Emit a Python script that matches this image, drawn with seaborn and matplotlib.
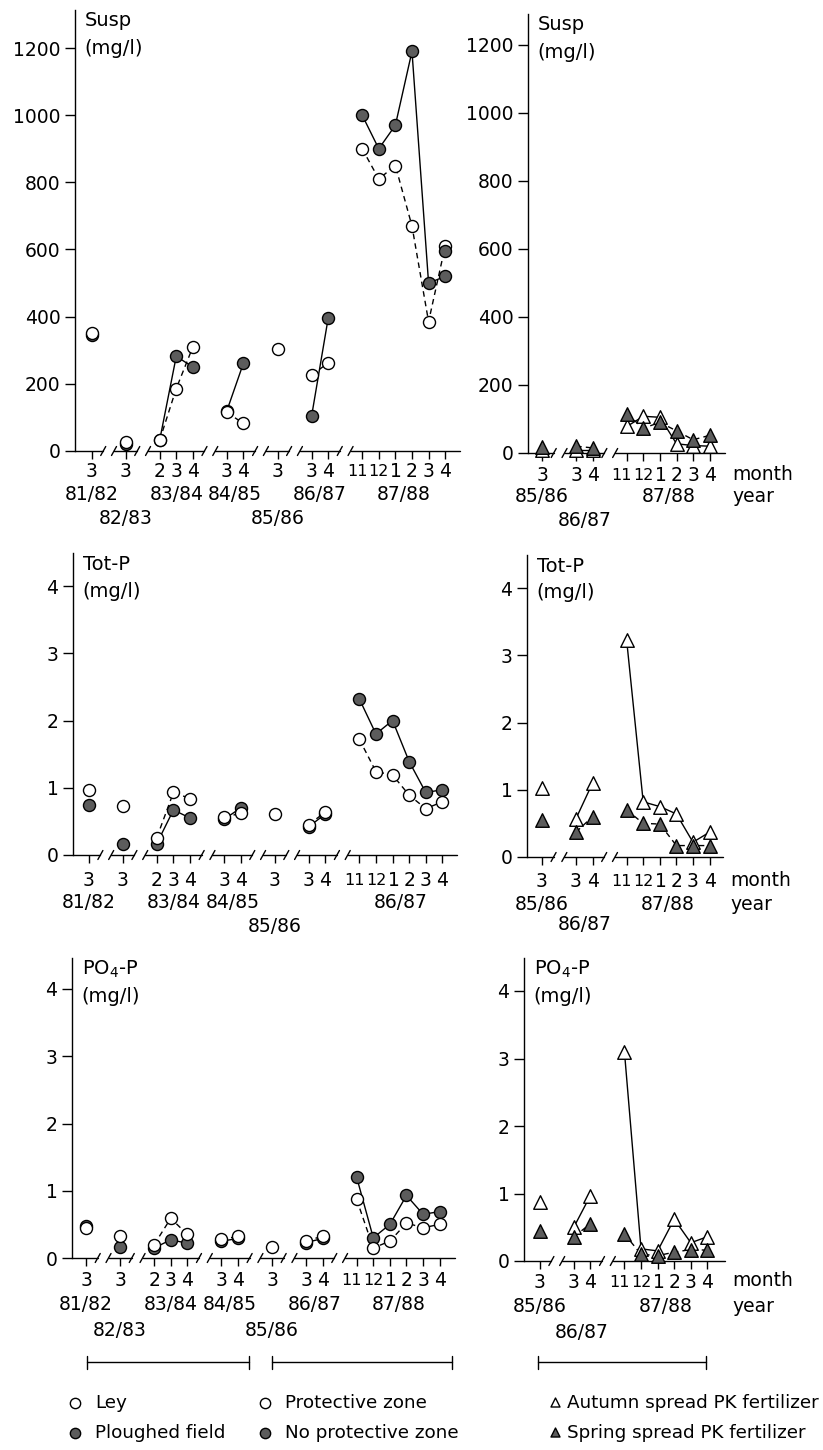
import numpy as np
import matplotlib
matplotlib.use("Agg")
import matplotlib.pyplot as plt
import seaborn as sns

sns.set_style("ticks")
plt.rcParams['font.family'] = ['DejaVu Sans']
plt.rcParams['mathtext.default'] = 'regular'
for key in ["text.color", "axes.labelcolor", "xtick.color", "ytick.color", "axes.edgecolor"]:
    plt.rcParams[key] = "black"

# ---------------------------------------------------------------- data
# left column: ley / ploughed field (81/82-84/85), protective zone (85/86-87/88)
left_years = ["81/82", "82/83", "83/84", "84/85", "85/86", "86/87", "87/88"]
left_months = [[3], [3], [2, 3, 4], [3, 4], [3], [3, 4], [11, 12, 1, 2, 3, 4]]
# the Tot-P panel in the source prints different year labels
totp_left_years = ["81/82", None, "83/84", "84/85", "85/86", None, "86/87"]
left_year_rows = [0, 1, 0, 0, 1, 0, 0]

susp_open = [352, 28, 32, 186, 310, 115, 82, 305, 226, 262, 900, 810, 850, 670, 385, 610]
susp_filled = [345, 22, 32, 282, 250, 120, 262, np.nan, 103, 395, 1000, 900, 970, 1190, 500, 520]
susp_filled_extra_idx = [15]
susp_filled_extra = [595]

totp_open = [0.97, 0.73, 0.26, 0.93, 0.84, 0.56, 0.62, 0.61, 0.45, 0.64, 1.72, 1.24, 1.19, 0.89, 0.69, 0.79]
totp_filled = [0.75, 0.17, 0.17, 0.67, 0.55, 0.53, 0.70, np.nan, 0.42, 0.61, 2.32, 1.80, 2.00, 1.39, 0.93, 0.97]

po4_open = [0.44, 0.33, 0.20, 0.59, 0.35, 0.28, 0.32, 0.16, 0.26, 0.32, 0.87, 0.15, 0.25, 0.52, 0.45, 0.50]
po4_filled = [0.47, 0.16, 0.15, 0.27, 0.22, 0.25, 0.29, np.nan, 0.23, 0.29, 1.20, 0.30, 0.50, 0.93, 0.65, 0.69]

# right column: autumn / spring spread PK fertilizer
right_years = ["85/86", "86/87", "87/88"]
right_months = [[3], [3, 4], [11, 12, 1, 2, 3, 4]]
right_year_rows = [0, 1, 0]

susp_autumn = [10, 10, 10, 78, 108, 105, 27, 22, 20]
susp_spring = [18, 20, 15, 115, 73, 90, 65, 39, 52]

totp_autumn = [1.02, 0.57, 1.10, 3.23, 0.82, 0.75, 0.64, 0.22, 0.37]
totp_spring = [0.55, 0.37, 0.60, 0.70, 0.50, 0.49, 0.17, 0.17, 0.17]

po4_autumn = [0.87, 0.50, 0.97, 3.10, 0.18, 0.15, 0.62, 0.27, 0.36]
po4_spring = [0.45, 0.36, 0.55, 0.40, 0.10, 0.08, 0.13, 0.17, 0.16]

susp_ticks = [0, 200, 400, 600, 800, 1000, 1200]
p_ticks = [0, 1, 2, 3, 4]

legend_labels = ["Ley", "Ploughed field", "Protective zone", "No protective zone",
                 "Autumn spread PK fertilizer", "Spring spread PK fertilizer"]

# ---------------------------------------------------------------- layout
W, H, DPI = 823, 1450, 100
PT = 72 / DPI            # points per pixel
UNIT_PX = 16.6           # pixels per month slot
GROUP_GAP = 2.05         # slots between neighbouring seasons
HALF_SEG = 0.7
GREY = "#5c5c5c"
FS = 13.5
TWO_FS = 11.5            # "11" and "12" only get one slot each
MONTH_SHIFT = {11: -5, 1: 1}   # px nudges so the packed labels don't collide
DIGIT_H = 0.729          # DejaVu digit height / em

# left px, right px, zero px, top px, ref tick value, ref tick px, x start, month pad, year rows
panels = {
    "TL": dict(l=75, r=460, z=451, t=10, rv=1200, rp=48, x0=1.0, mp=19, yr=(44, 67)),
    "TR": dict(l=528, r=725, z=453, t=14, rv=1200, rp=45, x0=0.85, mp=21, yr=(44, 67)),
    "ML": dict(l=73, r=457, z=855, t=553, rv=4, rp=586, x0=0.95, mp=24, yr=(48, 72)),
    "MR": dict(l=527, r=723, z=857, t=555, rv=4, rp=588, x0=0.9, mp=23, yr=(48, 68)),
    "BL": dict(l=72, r=455, z=1258, t=958, rv=4, rp=989, x0=0.85, mp=21, yr=(47, 72)),
    "BR": dict(l=524, r=725, z=1261, t=958, rv=4, rp=991, x0=0.95, mp=20, yr=(46, 71)),
}


def group_positions(months):
    out, x = [], 0.0
    for gi, ms in enumerate(months):
        if gi > 0:
            x += GROUP_GAP - 1
        grp = []
        for _ in ms:
            grp.append(x)
            x += 1
        out.append(grp)
    return out


def set_limits(ax, spec):
    ax.set_ylim(0, spec["rv"] * (spec["z"] - spec["t"]) / (spec["z"] - spec["rp"]))
    ax.set_xlim(-spec["x0"], (spec["r"] - spec["l"]) / UNIT_PX - spec["x0"])


def make_axes(fig, spec):
    ax = fig.add_axes([spec["l"] / W, (H - spec["z"]) / H,
                       (spec["r"] - spec["l"]) / W, (spec["z"] - spec["t"]) / H])
    ax.patch.set_alpha(0)
    sns.despine(ax=ax, bottom=True)
    ax.spines["left"].set_color("black")
    ax.spines["left"].set_linewidth(1)
    return ax


def draw_series(ax, gpos, vals, marker, face, ls, area, z):
    vals = np.asarray(vals, dtype=float)
    flat = np.array([p for g in gpos for p in g])
    i = 0
    for g in gpos:
        xs = np.array(g)
        ys = vals[i:i + len(g)]
        i += len(g)
        ok = ~np.isnan(ys)
        if ok.sum() > 1:
            sns.lineplot(x=xs[ok], y=ys[ok], ax=ax, color="black", lw=1,
                         linestyle=ls, estimator=None, sort=False, zorder=2)
    ok = ~np.isnan(vals)
    sns.scatterplot(x=flat[ok], y=vals[ok], ax=ax, marker=marker, s=area,
                    color=face, edgecolor="black", linewidth=1, zorder=z,
                    clip_on=False)


def dress_axes(ax, spec, gpos, months, years, rows, yticks, title, right=False):
    flat = [p for g in gpos for p in g]
    month_list = [m for ms in months for m in ms]
    ax.set_xticks(flat)
    ax.set_yticks(yticks)
    ax.tick_params(axis="x", length=5.5, width=1, direction="out", labelbottom=False)
    ax.tick_params(axis="y", length=7, width=1, direction="out",
                   pad=3.5, labelsize=FS)

    # month labels, vertically centred on one line whatever their size
    for x, m in zip(flat, month_list):
        size = TWO_FS if m >= 10 else FS
        ax.annotate(str(m), xy=(x, 0), xycoords=("data", "axes fraction"),
                    xytext=(MONTH_SHIFT.get(m, 0) * PT,
                            -spec["mp"] * PT - DIGIT_H * size / 2),
                    textcoords="offset points", ha="center", va="baseline",
                    fontsize=size)

    # broken horizontal axis
    xl = ax.get_xlim()
    ymax = ax.get_ylim()[1]
    dy = 4.5 * ymax / (spec["z"] - spec["t"])
    dx = 2.5 / UNIT_PX
    n = len(gpos)
    for i, g in enumerate(gpos):
        a = xl[0] if i == 0 else g[0] - HALF_SEG
        b = xl[1] if i == n - 1 else g[-1] + HALF_SEG
        ax.plot([a, b], [0, 0], color="black", lw=1, clip_on=False, zorder=1)
        if i > 0:
            ax.plot([a - dx, a + dx], [-dy, dy], color="black", lw=1, clip_on=False)
        if i < n - 1:
            ax.plot([b - dx, b + dx], [-dy, dy], color="black", lw=1, clip_on=False)

    # season labels in two staggered rows
    for g, yl, row in zip(gpos, years, rows):
        if yl is None:
            continue
        ax.annotate(yl, xy=((g[0] + g[-1]) / 2, 0), xycoords=("data", "axes fraction"),
                    xytext=(0, -spec["yr"][row] * PT), textcoords="offset points",
                    ha="center", va="center", fontsize=FS)

    if right:
        ax.annotate("month", xy=(1, 0), xycoords="axes fraction",
                    xytext=(7 * PT, -spec["mp"] * PT), textcoords="offset points",
                    ha="left", va="center", fontsize=FS)
        ax.annotate("year", xy=(1, 0), xycoords="axes fraction",
                    xytext=(7 * PT, -spec["yr"][0] * PT), textcoords="offset points",
                    ha="left", va="center", fontsize=FS)

    name, unit = title
    ax.annotate(name, xy=(0, 1), xycoords="axes fraction",
                xytext=(10 * PT, -11 * PT), textcoords="offset points",
                ha="left", va="center", fontsize=FS + 0.5)
    ax.annotate(unit, xy=(0, 1), xycoords="axes fraction",
                xytext=(9 * PT, -38 * PT), textcoords="offset points",
                ha="left", va="center", fontsize=FS + 0.5)


fig = plt.figure(figsize=(W / DPI, H / DPI), dpi=DPI)

lpos = group_positions(left_months)
rpos = group_positions(right_months)
lflat = [p for g in lpos for p in g]

CIRC = 75
TRI = 95

left_rows = [
    ("TL", susp_open, susp_filled, susp_ticks, ("Susp", "(mg/l)"), left_years),
    ("ML", totp_open, totp_filled, p_ticks, ("Tot-P", "(mg/l)"), totp_left_years),
    ("BL", po4_open, po4_filled, p_ticks, ("PO$_4$-P", "(mg/l)"), left_years),
]
for key, o_vals, f_vals, yt, title, years in left_rows:
    spec = panels[key]
    ax = make_axes(fig, spec)
    draw_series(ax, lpos, f_vals, "o", GREY, "-", CIRC, 3)
    draw_series(ax, lpos, o_vals, "o", "white", (0, (4, 3)), CIRC, 4)
    if key == "TL":
        sns.scatterplot(x=[lflat[i] for i in susp_filled_extra_idx], y=susp_filled_extra,
                        ax=ax, marker="o", s=CIRC, color=GREY, edgecolor="black",
                        linewidth=1, zorder=5, clip_on=False)
    set_limits(ax, spec)
    dress_axes(ax, spec, lpos, left_months, years, left_year_rows, yt, title)

right_rows = [
    ("TR", susp_autumn, susp_spring, susp_ticks, ("Susp", "(mg/l)")),
    ("MR", totp_autumn, totp_spring, p_ticks, ("Tot-P", "(mg/l)")),
    ("BR", po4_autumn, po4_spring, p_ticks, ("PO$_4$-P", "(mg/l)")),
]
for key, a_vals, s_vals, yt, title in right_rows:
    spec = panels[key]
    ax = make_axes(fig, spec)
    draw_series(ax, rpos, a_vals, "^", "white", "-", TRI, 3)
    draw_series(ax, rpos, s_vals, "^", GREY, (0, (4, 3)), TRI, 4)
    set_limits(ax, spec)
    dress_axes(ax, spec, rpos, right_months, right_years, right_year_rows, yt, title,
               right=True)

# ---------------------------------------------------------------- brackets + legend
ov = fig.add_axes([0, 0, 1, 1])
ov.set_axis_off()
ov.set_xlim(0, W)
ov.set_ylim(H, 0)

bracket_spans = [(87, 249), (272, 452), (538, 706)]
for a, b in bracket_spans:
    ov.plot([a, b], [1362, 1362], color="black", lw=1)
    ov.plot([a, a], [1356, 1369], color="black", lw=1)
    ov.plot([b, b], [1356, 1369], color="black", lw=1)

leg_x = [75, 75, 265, 265, 555, 555]
leg_y = [1403, 1433, 1403, 1433, 1402, 1432]
leg_gap = [20, 20, 20, 20, 12, 12]
leg_marker = ["o", "o", "o", "o", "^", "^"]
leg_face = ["white", GREY, "white", GREY, "white", GREY]
for x, y, gap, m, f, lab in zip(leg_x, leg_y, leg_gap, leg_marker, leg_face, legend_labels):
    ov.scatter([x], [y], marker=m, s=55 if m == "o" else 42, color=f,
               edgecolor="black", linewidth=1)
    ov.text(x + gap, y + (1 if m == "^" else 0), lab, ha="left", va="center",
            fontsize=13.2)

fig.savefig("out.png", dpi=DPI)
